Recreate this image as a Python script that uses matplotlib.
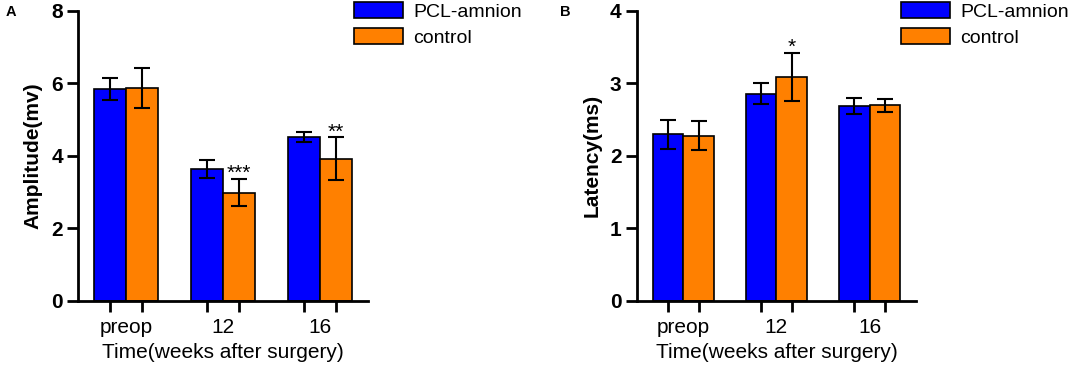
import numpy as np
import matplotlib
matplotlib.use('Agg')
import matplotlib.pyplot as plt

plt.rcParams['font.family'] = ['Liberation Sans', 'DejaVu Sans']

groups = ['preop', '12', '16']
series_names = ['PCL-amnion', 'control']

amp_pcl = [5.84, 3.64, 4.52]
amp_pcl_err = [0.31, 0.26, 0.14]
amp_ctrl = [5.88, 2.99, 3.92]
amp_ctrl_err = [0.56, 0.38, 0.59]
amp_sig = ['', '***', '**']

lat_pcl = [2.30, 2.86, 2.69]
lat_pcl_err = [0.20, 0.14, 0.11]
lat_ctrl = [2.28, 3.09, 2.70]
lat_ctrl_err = [0.20, 0.33, 0.09]
lat_sig = ['', '*', '']

BLUE = '#0000FF'
ORANGE = '#FF8000'
W = 0.33


def draw_panel(fig, ax, pcl, pcl_err, ctrl, ctrl_err, sig, ymax, ystep, ylabel, letter, letter_x, leg_x):
    x = np.arange(len(groups))
    err_kw = dict(ecolor='black', elinewidth=1.5, capsize=6, capthick=1.5)
    ax.bar(x - W / 2, pcl, W, yerr=pcl_err, color=BLUE, edgecolor='black',
           linewidth=1.2, error_kw=err_kw, label=series_names[0], zorder=2)
    ax.bar(x + W / 2, ctrl, W, yerr=ctrl_err, color=ORANGE, edgecolor='black',
           linewidth=1.2, error_kw=err_kw, label=series_names[1], zorder=2)

    for i, s in enumerate(sig):
        if s:
            ax.text(x[i] + W / 2, ctrl[i] + ctrl_err[i], s, ha='center',
                    va='baseline', fontsize=15)

    ax.set_xlim(-0.5, 2.5)
    ax.set_ylim(0, ymax)
    ticks = np.arange(0, ymax + 0.01, ystep)
    ax.set_yticks(ticks)
    ax.set_yticklabels([f'{v:g}' for v in ticks], fontweight='bold', fontsize=15)

    ax.set_xticks(np.concatenate([x - W / 2, x + W / 2]))
    ax.set_xticklabels([])
    ax.set_xticks(x, minor=True)
    ax.set_xticklabels(groups, minor=True, fontsize=15)
    ax.tick_params(axis='x', which='major', length=8, width=2, direction='out')
    ax.tick_params(axis='x', which='minor', length=0, pad=12)
    ax.tick_params(axis='y', length=8, width=2, pad=3)

    for side in ['top', 'right']:
        ax.spines[side].set_visible(False)
    for side in ['left', 'bottom']:
        ax.spines[side].set_linewidth(2)

    ax.set_ylabel(ylabel, fontsize=15, fontweight='bold', labelpad=6)
    ax.set_xlabel('Time(weeks after surgery)', fontsize=15, labelpad=5)

    ax.legend(loc='upper left', bbox_to_anchor=(leg_x, 1 - 2 / 366), bbox_transform=fig.transFigure,
              frameon=False, fontsize=14, borderpad=0, borderaxespad=0,
              handlelength=2.5, handleheight=0.88, handletextpad=0.55, labelspacing=0.38)

    fig.text(letter_x, 0.985, letter, fontsize=10.5, fontweight='bold', ha='left', va='top')


fig = plt.figure(figsize=(10.84, 3.66), dpi=100)
ax1 = fig.add_axes([0.072, 0.178, 0.2675, 0.792])
ax2 = fig.add_axes([0.5874, 0.178, 0.2577, 0.792])

draw_panel(fig, ax1, amp_pcl, amp_pcl_err, amp_ctrl, amp_ctrl_err, amp_sig,
           8, 2, 'Amplitude(mv)', 'A', 6 / 1084, 354 / 1084)
draw_panel(fig, ax2, lat_pcl, lat_pcl_err, lat_ctrl, lat_ctrl_err, lat_sig,
           4, 1, 'Latency(ms)', 'B', 560 / 1084, 901 / 1084)

fig.savefig('out.png', dpi=100)
